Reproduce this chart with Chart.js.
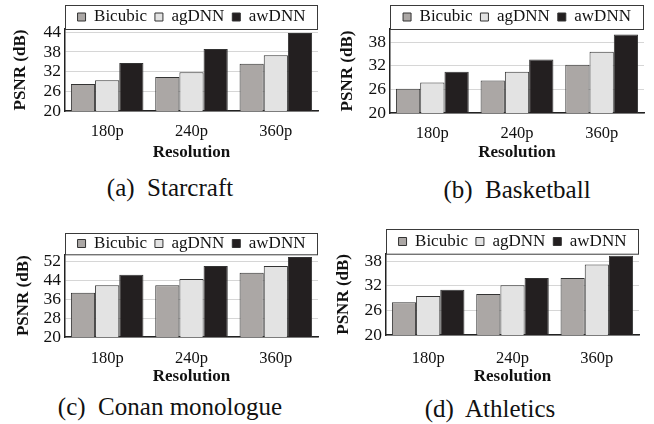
<!DOCTYPE html>
<html>
<head>
<meta charset="utf-8">
<script src="https://cdn.jsdelivr.net/npm/chart.js@4"></script>
<style>
  body { margin: 0; background: #fff; width: 654px; height: 424px; position: relative; overflow: hidden; }
  canvas { position: absolute; }
  .cap { position: absolute; font-family: "Liberation Serif", "Times New Roman", serif; font-size: 25px; white-space: pre; transform: translate(-50%, -50%); color: #111; }
</style>
</head>
<body>
<canvas id="c1" width="327" height="170" style="left:0;top:0"></canvas>
<canvas id="c2" width="327" height="170" style="left:327px;top:0"></canvas>
<canvas id="c3" width="327" height="180" style="left:0;top:212px"></canvas>
<canvas id="c4" width="327" height="180" style="left:327px;top:212px"></canvas>
<div class="cap" style="left:170px;top:188px">(a)  Starcraft</div>
<div class="cap" style="left:517px;top:190px">(b)  Basketball</div>
<div class="cap" style="left:170px;top:407px">(c)  Conan monologue</div>
<div class="cap" style="left:490px;top:409px">(d)  Athletics</div>
<script>
const resolutions = ['180p', '240p', '360p'];
const methods = ['Bicubic', 'agDNN', 'awDNN'];

// PSNR (dB) per resolution
const starcraftBicubic = [28.2, 30.4, 34.4];
const starcraftAgDNN   = [29.4, 31.8, 37.0];
const starcraftAwDNN   = [34.6, 38.9, 43.8];

const basketballBicubic = [26.2, 28.3, 32.3];
const basketballAgDNN   = [27.8, 30.5, 35.6];
const basketballAwDNN   = [30.5, 33.6, 40.0];

const conanBicubic = [38.7, 41.9, 47.2];
const conanAgDNN   = [41.9, 44.5, 50.0];
const conanAwDNN   = [46.3, 50.0, 53.9];

const athleticsBicubic = [28.0, 30.0, 33.9];
const athleticsAgDNN   = [29.5, 32.1, 37.2];
const athleticsAwDNN   = [31.0, 33.9, 39.3];

const ticksA = [20, 26, 32, 38, 44];
const ticksB = [20, 26, 32, 38];
const ticksC = [20, 28, 36, 44, 52];
const ticksD = [20, 26, 32, 38];

const fills = ['#aba7a5', '#e3e3e3', '#231f20'];
const serif = '"Liberation Serif", "Times New Roman", serif';

// frame around the legend, sitting on top of the plot
const legendFrame = {
  id: 'legendFrame',
  afterDraw(chart, args, opts) {
    const { ctx, chartArea } = chart;
    ctx.save();
    ctx.strokeStyle = '#3a3a3a';
    ctx.lineWidth = 1;
    ctx.strokeRect(chartArea.left + 0.5, opts.top + 0.5,
      chartArea.right - chartArea.left - 1, chartArea.top - opts.top);
    ctx.restore();
  }
};

function makeChart(id, series, yMax, yTicks, lay) {
  new Chart(document.getElementById(id), {
    type: 'bar',
    data: {
      labels: resolutions,
      datasets: series.map((vals, i) => ({
        label: methods[i],
        data: vals,
        backgroundColor: fills[i],
        borderColor: '#333',
        borderWidth: 1,
        categoryPercentage: 0.86,
        barPercentage: 1
      }))
    },
    options: {
      responsive: false,
      animation: false,
      layout: { padding: { left: 0, right: lay.right, top: lay.legendTop, bottom: 0 } },
      plugins: {
        legend: {
          fullSize: false,
          maxHeight: lay.legendH,
          labels: {
            boxWidth: 8, boxHeight: 8, padding: 8, color: '#111',
            font: { family: serif, size: 17 }
          }
        },
        tooltip: { enabled: false },
        legendFrame: { top: lay.frameTop }
      },
      scales: {
        x: {
          grid: { display: false },
          border: { color: '#222', width: 1.5 },
          ticks: { padding: lay.xPad, color: '#111', font: { family: serif, size: 16.5 } },
          title: { display: true, text: 'Resolution', color: '#111', padding: { top: 0, bottom: lay.xTitlePad },
            font: { family: serif, size: 17, weight: 'bold' } },
          afterFit(s) { s.height = lay.xH; }
        },
        y: {
          min: 20, max: yMax,
          afterBuildTicks(s) { s.ticks = yTicks.map(v => ({ value: v })); },
          grid: { color: '#d6d6d6', drawTicks: false },
          border: { color: '#222', width: 1.5 },
          ticks: { autoSkip: false, padding: 4, color: '#111', font: { family: serif, size: 17.5 } },
          title: { display: true, text: 'PSNR (dB)', color: '#111', padding: { top: lay.yTitlePad, bottom: 0 },
            font: { family: serif, size: 17, weight: 'bold' } },
          afterFit(s) { s.width = lay.yW; }
        }
      }
    },
    plugins: [legendFrame]
  });
}

makeChart('c1', [starcraftBicubic, starcraftAgDNN, starcraftAwDNN], 45, ticksA,
  { right: 9, legendTop: 0.5, legendH: 28.5, frameTop: 5, xH: 59, xPad: 3, xTitlePad: 7, yW: 65, yTitlePad: 10 });
makeChart('c2', [basketballBicubic, basketballAgDNN, basketballAwDNN], 41.4, ticksB,
  { right: 10, legendTop: 0.5, legendH: 28.5, frameTop: 5, xH: 57, xPad: 3, xTitlePad: 7, yW: 63, yTitlePad: 10 });
makeChart('c3', [conanBicubic, conanAgDNN, conanAwDNN], 55, ticksC,
  { right: 9, legendTop: 15, legendH: 27.3, frameTop: 21, xH: 55, xPad: 4, xTitlePad: 5, yW: 65, yTitlePad: 13 });
makeChart('c4', [athleticsBicubic, athleticsAgDNN, athleticsAwDNN], 39.8, ticksD,
  { right: 15, legendTop: 13, legendH: 28.7, frameTop: 17, xH: 57, xPad: 6, xTitlePad: 5, yW: 59, yTitlePad: 6 });
</script>
</body>
</html>
